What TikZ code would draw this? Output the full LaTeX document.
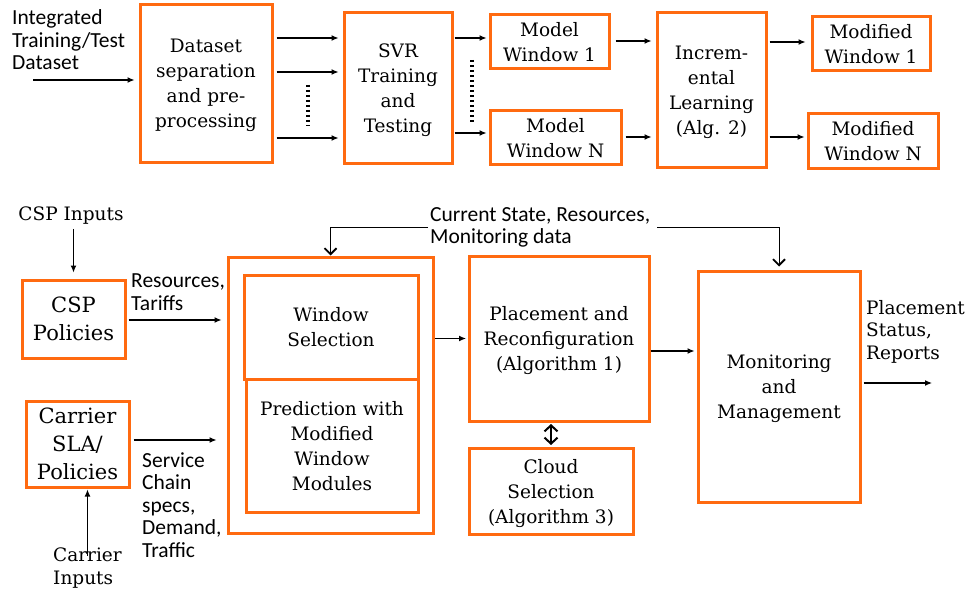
\documentclass[tikz,border=0pt]{standalone}
\usepackage{fontspec}
\setmainfont{DejaVu Serif}
\newfontfamily\labelfont{Carlito}
\usepackage{xcolor}
\usetikzlibrary{arrows.meta}

\definecolor{boxorange}{RGB}{255,106,16}

\tikzset{
    box/.style={draw=boxorange, line width=3pt, align=center, inner sep=0pt,
        text depth=-2pt, font=\fontsize{18.5}{25}\selectfont},
    bigbox/.style={box, font=\fontsize{21}{28}\selectfont},
    lbl/.style={align=left, inner sep=0pt, anchor=west,
        font=\labelfont\fontsize{21.5}{22.5}\selectfont},
    slbl/.style={align=left, inner sep=0pt, anchor=west,
        font=\fontsize{18.5}{22.5}\selectfont},
    arr/.style={line width=1.2pt, -{Latex[length=7pt,width=6pt]}},
    fb/.style={line width=1pt, -{Straight Barb[length=6pt,width=12pt,line width=1.8pt]}},
    dbl/.style={line width=1.5pt, {Straight Barb[length=6pt,width=13pt,line width=2pt]}-{Straight Barb[length=6pt,width=13pt,line width=2pt]}},
    dots/.style={line width=3.5pt, dash pattern=on 2.5pt off 2.5pt},
}

\begin{document}
\begin{tikzpicture}[x=1pt, y=-1pt]
    \useasboundingbox (0,0) rectangle (968,591);

    % training part
    \node[lbl] (intext) at (12,40) {Integrated\\Training/Test\\Dataset};
    \coordinate (instart) at (33,80);
    \node[box, minimum width=132pt, minimum height=157pt] (dsep) at (206,83.5) {Dataset\\separation\\and pre-\\processing};
    \node[box, minimum width=108pt, minimum height=150pt] (svr) at (398,88) {SVR\\Training\\and\\Testing};
    \node[box, minimum width=119pt, minimum height=54pt] (mw1) at (549.5,42) {Model\\Window 1};
    \node[box, minimum width=131pt, minimum height=53pt] (mwn) at (555.5,137.5) {Model\\Window N};
    \node[box, minimum width=109pt, minimum height=154pt] (inc) at (711.5,90) {Increm-\\ental\\Learning\\(Alg. 2)};
    \node[box, minimum width=118pt, minimum height=54pt] (mod1) at (871,44) {Modified\\Window 1};
    \node[box, minimum width=130pt, minimum height=54pt] (modn) at (873,141) {Modified\\Window N};

    \draw[arr, shorten >=4pt] (instart) -- (instart -| dsep.west);
    \foreach \y in {38,72,138}{
        \draw[arr, shorten <=3pt, shorten >=4pt] (dsep.east |- 0,\y) -- (svr.west |- 0,\y);
    }
    \draw[dots] (308,85) -- (308,126);
    \draw[arr, shorten <=1pt, shorten >=2pt] (svr.east |- 0,38) -- (mw1.west |- 0,38);
    \draw[arr, shorten <=1pt, shorten >=2pt] (svr.east |- 0,133) -- (mwn.west |- 0,133);
    \draw[dots] (472,60) -- (472,122);
    \draw[arr, shorten <=5pt, shorten >=4pt] (mw1.east |- 0,41) -- (inc.west |- 0,41);
    \draw[arr, shorten <=3pt, shorten >=4pt] (mwn.east |- 0,137) -- (inc.west |- 0,137);
    \draw[arr, shorten <=2pt, shorten >=5pt] (inc.east |- 0,42) -- (mod1.west |- 0,42);
    \draw[arr, shorten <=2pt, shorten >=2pt] (inc.east |- 0,137) -- (modn.west |- 0,137);

    % placement part
    \node[slbl, anchor=center] (cspin) at (71,216) {CSP Inputs};
    \node[bigbox, minimum width=103pt, minimum height=78pt] (csp) at (73.5,319) {CSP\\Policies};
    \node[lbl] (restar) at (131,292) {Resources,\\Tariffs};
    \node[bigbox, minimum width=103pt, minimum height=86pt] (carrier) at (77.5,444) {Carrier\\SLA/\\Policies};
    \node[lbl] (scspec) at (142,505) {Service\\Chain\\specs,\\Demand,\\Traffic};
    \node[slbl] (carin) at (53,568) {Carrier\\Inputs};

    \node[box, minimum width=205pt, minimum height=276pt] (outer) at (330.5,395) {};
    \node[box, minimum width=174pt, minimum height=104pt] (winsel) at (331,327) {Window\\Selection};
    \node[box, minimum width=172pt, minimum height=133pt] (pred) at (332,445.5) {Prediction with\\Modified\\Window\\Modules};

    \node[lbl] (cur) at (430,227.5) {Current State, Resources,\\Monitoring data};
    \node[box, minimum width=180pt, minimum height=165pt] (place) at (559,338.5) {Placement and\\Reconfiguration\\(Algorithm 1)};
    \node[box, minimum width=164pt, minimum height=86pt] (cloud) at (551,491) {Cloud\\Selection\\(Algorithm 3)};
    \node[box, minimum width=162pt, minimum height=231pt] (mon) at (779,386.5) {Monitoring\\and\\Management};
    \node[slbl] (plstat) at (866,331.5) {Placement\\Status,\\Reports};
    \coordinate (out) at (932,383);

    \draw[arr, shorten <=4pt, shorten >=6pt] (cspin.south -| csp.north) -- (csp.north);
    \draw[arr, shorten <=2pt, shorten >=5pt] (csp.east |- 0,320) -- (outer.west |- 0,320);
    \draw[arr, shorten <=3pt, shorten >=10pt] (carrier.east |- 0,440) -- (outer.west |- 0,440);
    \draw[arr, shorten <=-8pt, shorten >=1pt] (carin.north) -- (carin.north |- carrier.south);
    \draw[fb, shorten <=2pt] (cur.west) -| (outer.north);
    \draw[fb, shorten <=7pt, shorten >=3pt] (cur.east) -| (mon.north);
    \draw[arr, shorten >=1.5pt] (outer.east |- place.west) -- (place.west);
    \draw[dbl, shorten <=1.5pt, shorten >=1.5pt] (cloud.north) -- (cloud.north |- place.south);
    \draw[arr, shorten >=2pt] (place.east |- 0,351) -- (mon.west |- 0,351);
    \draw[arr, shorten <=2pt] (mon.east |- out) -- (out);
\end{tikzpicture}
\end{document}
